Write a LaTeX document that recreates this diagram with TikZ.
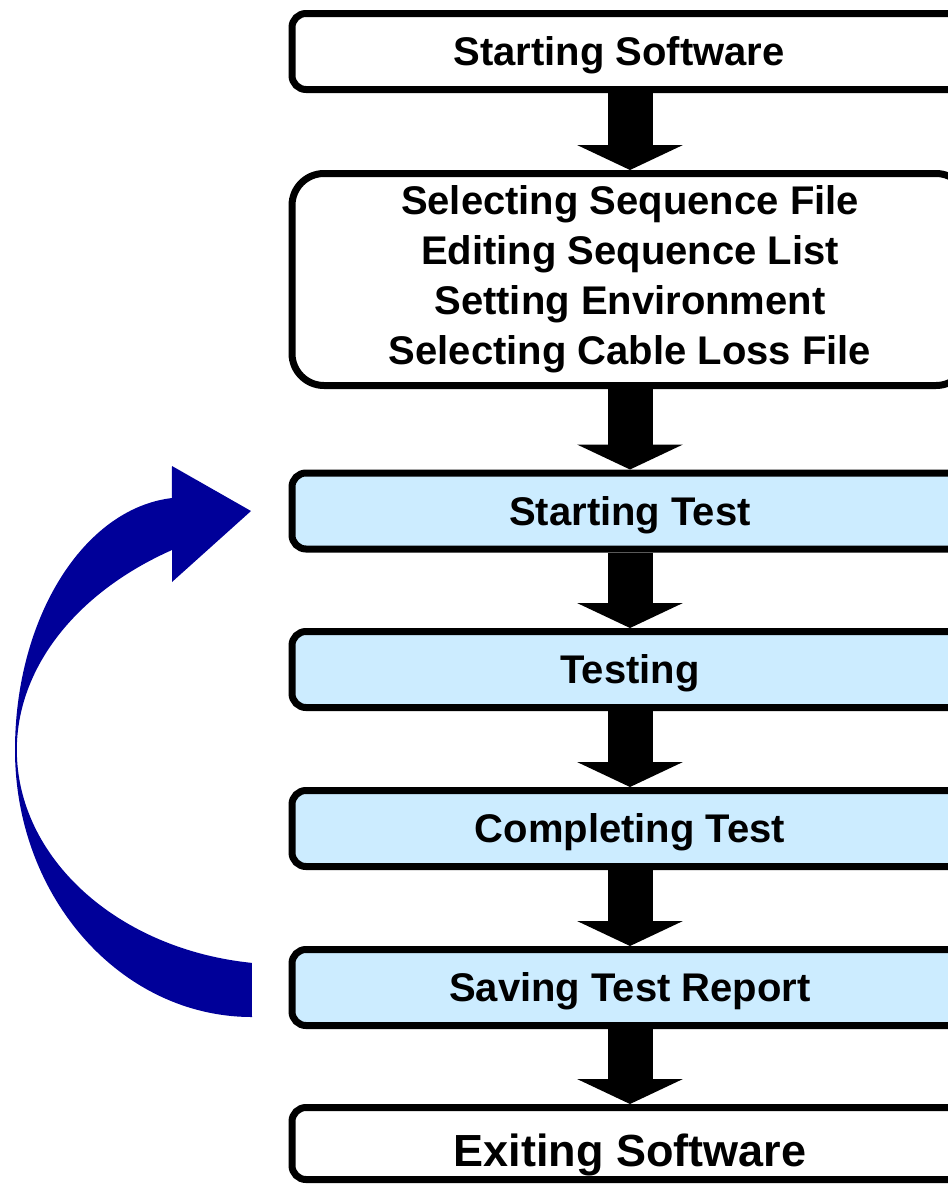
\documentclass[tikz,border=0pt]{standalone}
\usepackage{fontspec}
\setmainfont{Liberation Sans}
\usepackage{tikz}
\usetikzlibrary{arrows.meta}
\definecolor{testblue}{RGB}{204,236,255}
\definecolor{loopblue}{RGB}{0,0,153}

\begin{document}
\begin{tikzpicture}[x=1pt,y=-1pt]
\tikzset{stepbox/.style = {shape=rectangle,draw,line width=7pt,rounded corners=14pt,
minimum width=676pt,minimum height=76pt,inner sep=0pt,
font=\bfseries\fontsize{40}{50}\selectfont,text height=28.6pt,text depth=0pt}}
\tikzset{testbox/.style = {stepbox,fill=testblue}}
\tikzset{flow/.style = {line width=45pt,-{Triangle[length=25pt,width=105pt]}}}
\clip (0,0) rectangle (948,1184);
% boxes
\node[stepbox] (start) at (630,51.5) {Starting Software\hspace*{22pt}};
\node[stepbox,minimum height=212pt,rounded corners=32pt,align=center,
text height=,text depth=] (setup) at (630,279.5)
{Selecting Sequence File\\Editing Sequence List\\Setting Environment\\Selecting Cable Loss File};
\node[testbox] (begin) at (630,511) {Starting Test};
\node[testbox] (testing) at (630,669.5) {Testing};
\node[testbox] (complete) at (630,828.5) {Completing Test};
\node[testbox] (save) at (630,987.5) {Saving Test Report};
\node[stepbox,minimum height=72pt,font=\bfseries\fontsize{45}{54}\selectfont,
text height=45.2pt] (exit) at (630,1143.5) {Exiting Software};
%arrows
\draw[flow] (start) to (setup);
\draw[flow] (setup) to (begin);
\draw[flow] (begin) to (testing);
\draw[flow] (testing) to (complete);
\draw[flow] (complete) to (save);
\draw[flow] (save) to (exit);
% loop back
\fill[loopblue] (252,1017) arc[start angle=90,end angle=180,x radius=237,y radius=267]
  arc[start angle=180,end angle=265.4,x radius=170.6,y radius=252.8]
  -- (172,466) -- (251,511) -- (172,582) -- (172,550)
  arc[start angle=238.3,end angle=180,x radius=327,y radius=235]
  arc[start angle=180,end angle=97.3,x radius=269.2,y radius=214.7]
  -- cycle;
\end{tikzpicture}
\end{document}
